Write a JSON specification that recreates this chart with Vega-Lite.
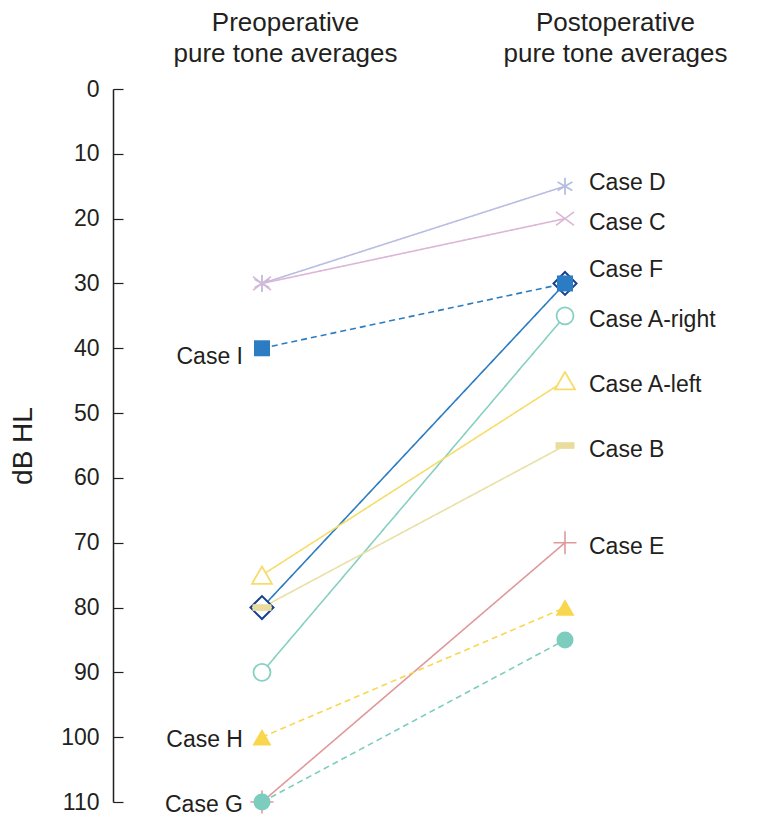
{
  "$schema": "https://vega.github.io/schema/vega-lite/v6.json",
  "width": 601,
  "height": 713,
  "autosize": "none",
  "padding": {"left": 113, "top": 89, "right": 61, "bottom": 22},
  "background": "white",
  "config": {"view": {"stroke": null}, "font": "Liberation Sans"},
  "data": {
    "values": [
      {"case": "Case D", "time": "Pre", "db": 30},
      {"case": "Case D", "time": "Post", "db": 15},
      {"case": "Case C", "time": "Pre", "db": 30},
      {"case": "Case C", "time": "Post", "db": 20},
      {"case": "Case F", "time": "Pre", "db": 80},
      {"case": "Case F", "time": "Post", "db": 30},
      {"case": "Case I", "time": "Pre", "db": 40},
      {"case": "Case I", "time": "Post", "db": 30},
      {"case": "Case A-right", "time": "Pre", "db": 90},
      {"case": "Case A-right", "time": "Post", "db": 35},
      {"case": "Case A-left", "time": "Pre", "db": 75},
      {"case": "Case A-left", "time": "Post", "db": 45},
      {"case": "Case B", "time": "Pre", "db": 80},
      {"case": "Case B", "time": "Post", "db": 55},
      {"case": "Case E", "time": "Pre", "db": 110},
      {"case": "Case E", "time": "Post", "db": 70},
      {"case": "Case H", "time": "Pre", "db": 100},
      {"case": "Case H", "time": "Post", "db": 80},
      {"case": "Case G", "time": "Pre", "db": 110},
      {"case": "Case G", "time": "Post", "db": 85}
    ]
  },
  "encoding": {
    "x": {
      "field": "time", "type": "nominal", "sort": ["Pre", "Post"],
      "scale": {"type": "point", "padding": 0.4917},
      "axis": {
        "orient": "top", "title": null, "domain": false, "ticks": false,
        "labelAngle": 0, "labelFontSize": 26, "labelLineHeight": 31,
        "labelPadding": 54, "labelColor": "#231f20", "labelLimit": 500,
        "labelOverlap": false, "labelBound": false,
        "labelExpr": "datum.value == 'Pre' ? ['Preoperative','pure tone averages'] : ['Postoperative','pure tone averages']",
        "labelOffset": {"condition": {"test": "datum.value == 'Pre'", "value": 23}, "value": 50}
      }
    },
    "y": {
      "field": "db", "type": "quantitative",
      "scale": {"domain": [0, 110], "reverse": true, "nice": false, "zero": false},
      "axis": {
        "title": "dB HL", "titleFontSize": 28, "titleFontWeight": "normal",
        "titleColor": "#231f20", "titlePadding": 23,
        "values": [0, 10, 20, 30, 40, 50, 60, 70, 80, 90, 100, 110],
        "grid": false, "tickSize": -10, "tickColor": "#231f20", "tickWidth": 1.2,
        "domainColor": "#231f20", "domainWidth": 1.5,
        "labelFontSize": 23, "labelColor": "#231f20", "labelPadding": 24,
        "labelFlush": false, "labelOverlap": false
      }
    }
  },
  "layer": [
    {
      "mark": {"type": "line", "strokeWidth": 1.6},
      "encoding": {
        "color": {
          "field": "case", "type": "nominal", "legend": null,
          "scale": {
            "domain": ["Case D", "Case C", "Case F", "Case I", "Case A-right", "Case A-left", "Case B", "Case E", "Case H", "Case G"],
            "range": ["#b8bde2", "#dcb6d6", "#2b7bc0", "#2b7cc2", "#86d0c2", "#f6dd69", "#e8e0a4", "#e0999b", "#f8d74f", "#7dcdbf"]
          }
        },
        "strokeDash": {
          "field": "case", "type": "nominal", "legend": null,
          "scale": {
            "domain": ["Case D", "Case C", "Case F", "Case I", "Case A-right", "Case A-left", "Case B", "Case E", "Case H", "Case G"],
            "range": [[1, 0], [1, 0], [1, 0], [6, 4], [1, 0], [1, 0], [1, 0], [1, 0], [6, 4], [6, 4]]
          }
        }
      }
    },
    {
      "transform": [{"filter": {"field": "case", "equal": "Case D"}}],
      "mark": {"type": "point", "shape": "M0,-1L0,1M-0.866,-0.5L0.866,0.5M-0.866,0.5L0.866,-0.5", "size": 289, "filled": false, "stroke": "#b8bde2", "strokeWidth": 1.8, "opacity": 1},
      "encoding": {}
    },
    {
      "transform": [{"filter": {"field": "case", "equal": "Case C"}}],
      "mark": {"type": "point", "shape": "M-1,-0.75L1,0.75M-1,0.75L1,-0.75", "size": 324, "filled": false, "stroke": "#dcb6d6", "strokeWidth": 1.6, "opacity": 1},
      "encoding": {}
    },
    {
      "transform": [{"filter": {"field": "case", "equal": "Case F"}}],
      "mark": {"type": "point", "shape": "diamond", "size": 529, "filled": true, "fill": "white", "stroke": "#17408e", "strokeWidth": 2, "opacity": 1},
      "encoding": {}
    },
    {
      "transform": [{"filter": {"field": "case", "equal": "Case A-right"}}],
      "mark": {"type": "point", "shape": "circle", "size": 289, "filled": true, "fill": "white", "stroke": "#86d0c2", "strokeWidth": 1.8, "opacity": 1},
      "encoding": {}
    },
    {
      "transform": [{"filter": {"field": "case", "equal": "Case A-left"}}],
      "mark": {"type": "point", "shape": "triangle-up", "size": 400, "filled": true, "fill": "white", "stroke": "#f6dd69", "strokeWidth": 1.8, "opacity": 1},
      "encoding": {}
    },
    {
      "transform": [{"filter": {"field": "case", "equal": "Case E"}}],
      "mark": {"type": "point", "shape": "M-1,0L1,0M0,-1L0,1", "size": 529, "filled": false, "stroke": "#e0999b", "strokeWidth": 1.6, "opacity": 1},
      "encoding": {}
    },
    {
      "transform": [{"filter": {"field": "case", "equal": "Case I"}}],
      "mark": {"type": "point", "shape": "square", "size": 256, "filled": true, "fill": "#2b7cc2", "strokeWidth": 0, "opacity": 1},
      "encoding": {}
    },
    {
      "transform": [{"filter": {"field": "case", "equal": "Case B"}}],
      "mark": {"type": "point", "shape": "M-1,-0.35L1,-0.35L1,0.35L-1,0.35Z", "size": 361, "filled": true, "fill": "#e9dc9c", "strokeWidth": 0, "opacity": 1},
      "encoding": {}
    },
    {
      "transform": [{"filter": {"field": "case", "equal": "Case H"}}],
      "mark": {"type": "point", "shape": "triangle-up", "size": 361, "filled": true, "fill": "#f8d74f", "strokeWidth": 0, "opacity": 1},
      "encoding": {}
    },
    {
      "transform": [{"filter": {"field": "case", "equal": "Case G"}}],
      "mark": {"type": "point", "shape": "circle", "size": 289, "filled": true, "fill": "#7dcdbf", "strokeWidth": 0, "opacity": 1},
      "encoding": {}
    },
    {
      "transform": [{"filter": {"and": [{"field": "time", "equal": "Post"}, {"field": "case", "oneOf": ["Case C", "Case A-right", "Case A-left", "Case B", "Case E"]}]}}],
      "mark": {"type": "text", "align": "left", "baseline": "middle", "dx": 24, "dy": 4, "fontSize": 23, "color": "#231f20"},
      "encoding": {"text": {"field": "case"}}
    },
    {
      "transform": [{"filter": {"and": [{"field": "time", "equal": "Post"}, {"field": "case", "equal": "Case D"}]}}],
      "mark": {"type": "text", "align": "left", "baseline": "middle", "dx": 24, "dy": -3, "fontSize": 23, "color": "#231f20"},
      "encoding": {"text": {"field": "case"}}
    },
    {
      "transform": [{"filter": {"and": [{"field": "time", "equal": "Post"}, {"field": "case", "equal": "Case F"}]}}],
      "mark": {"type": "text", "align": "left", "baseline": "middle", "dx": 24, "dy": -13, "fontSize": 23, "color": "#231f20"},
      "encoding": {"text": {"field": "case"}}
    },
    {
      "transform": [{"filter": {"and": [{"field": "time", "equal": "Pre"}, {"field": "case", "equal": "Case I"}]}}],
      "mark": {"type": "text", "align": "right", "baseline": "middle", "dx": -19, "dy": 9, "fontSize": 23, "color": "#231f20"},
      "encoding": {"text": {"field": "case"}}
    },
    {
      "transform": [{"filter": {"and": [{"field": "time", "equal": "Pre"}, {"field": "case", "oneOf": ["Case H", "Case G"]}]}}],
      "mark": {"type": "text", "align": "right", "baseline": "middle", "dx": -19, "dy": 3, "fontSize": 23, "color": "#231f20"},
      "encoding": {"text": {"field": "case"}}
    }
  ]
}
